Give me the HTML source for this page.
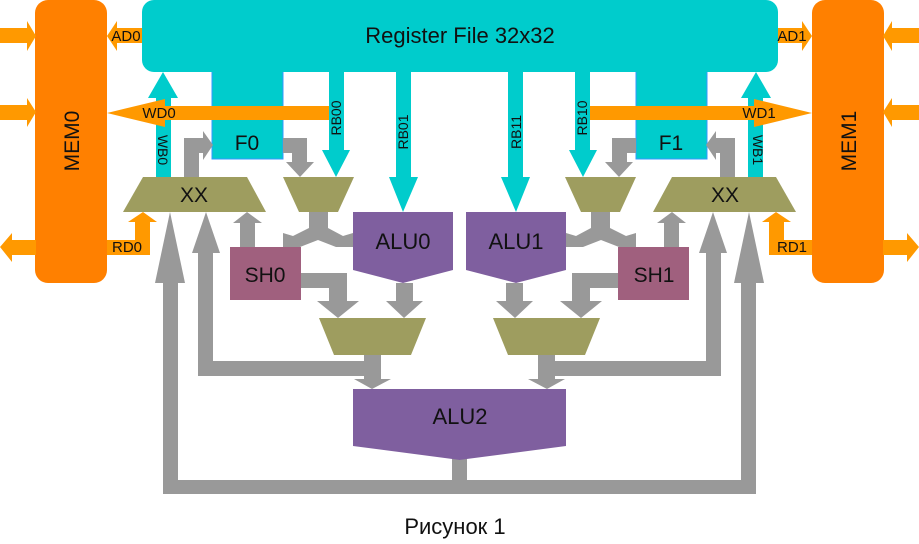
<!DOCTYPE html>
<html><head><meta charset="utf-8"><style>
html,body{margin:0;padding:0;background:#fff;}
svg{display:block;}
text{font-family:"Liberation Sans","DejaVu Sans",sans-serif;fill:#111;}
</style></head><body>
<svg width="919" height="544" viewBox="0 0 919 544" xmlns="http://www.w3.org/2000/svg">
<defs>
<g id="L">
  <rect x="212" y="70" width="71" height="89" fill="#00cccc" stroke="#3399ff" stroke-width="1"/>
  <rect x="35" y="0" width="72" height="283" rx="13" fill="#ff8000"/>
  <polygon fill="#ff9900" points="0,28 27,28 27,21 36,36 27,51 27,43 0,43"/>
  <polygon fill="#ff9900" points="0,105 27,105 27,98 36,112 27,127 27,120 0,120"/>
  <polygon fill="#ff9900" points="36,240 12,240 12,233 0,247 12,262 12,255 36,255"/>
  <polygon fill="#ff9900" points="142,28 117,28 117,21 107,36 117,51 117,43 142,43"/>
  <polygon fill="#00cccc" points="156,177 156,98 148,98 163,72 178,98 171,98 171,177"/>
  <polygon fill="#ff9900" points="330,106 165,106 165,99 107,113 165,127 165,120 330,120"/>
  <polygon fill="#ff9900" points="107,240 135,240 135,222 128,222 143,212 157,222 150,222 150,255 107,255"/>
  <polygon fill="#00cccc" points="329,72 344,72 344,150 350,150 336,177 322,150 329,150"/>
  <polygon fill="#00cccc" points="396,72 411,72 411,177 418,177 403,212 389,177 396,177"/>
  <polygon fill="#9e9d5f" points="143,177 247,177 266,212 123,212"/>
  <polygon fill="#999" points="184,177 184,138 203,138 203,131 213,145 203,160 203,153 199,153 199,177"/>
  <polygon fill="#999" points="283,138 307,138 307,162 314,162 300,177 286,162 292,162 292,153 283,153"/>
  <polygon fill="#9e9d5f" points="283,177 354,177 338,212 299,212"/>
  <polygon fill="#999" points="309,212 328,212 328,228 343,236 353,233 353,247 336,247 318,240 300,247 283,247 283,233 293,236 309,228"/>
  <rect x="230" y="247" width="71" height="53" fill="#a0607e"/>
  <polygon fill="#999" points="240,247 240,223 233,223 247,212 262,223 255,223 255,247"/>
  <polygon fill="#7f5f9f" points="353,212 453,212 453,270 403,283 353,270"/>
  <polygon fill="#999" points="163,494 163,283 155,283 170,212 185,283 178,283 178,480 452,480 452,458 460,458 460,494"/>
  <polygon fill="#999" points="198,376 198,253 192,253 206,212 220,253 213,253 213,361 364,361 364,355 381,355 381,379 391,379 372,389 354,379 364,379 364,376"/>
  <polygon fill="#999" points="301,273 347,273 347,301 359,301 338,318 317,301 329,301 329,288 301,288"/>
  <polygon fill="#999" points="396,283 413,283 413,301 423,301 404,318 386,301 396,301"/>
  <polygon fill="#9e9d5f" points="319,318 426,318 411,355 334,355"/>
  <polygon fill="#7f5f9f" points="353,389 460,389 460,460 353,446"/>
</g>
</defs>
<use href="#L"/>
<use href="#L" transform="translate(919,0) scale(-1,1)"/>
<rect x="142" y="0" width="636" height="72" rx="12" fill="#00cccc"/>

<text x="460" y="43" font-size="22" text-anchor="middle">Register File 32x32</text>
<text x="0" y="0" font-size="21" text-anchor="middle" transform="translate(79,141) rotate(-90)">MEM0</text>
<text x="0" y="0" font-size="21" text-anchor="middle" transform="translate(856,141) rotate(-90)">MEM1</text>
<text x="126" y="41" font-size="15" text-anchor="middle">AD0</text>
<text x="792" y="41" font-size="15" text-anchor="middle">AD1</text>
<text x="159" y="118" font-size="15" text-anchor="middle">WD0</text>
<text x="759" y="118" font-size="15" text-anchor="middle">WD1</text>
<text x="127" y="252" font-size="15" text-anchor="middle">RD0</text>
<text x="792" y="252" font-size="15" text-anchor="middle">RD1</text>
<text x="0" y="0" font-size="14" text-anchor="middle" transform="translate(158,150) rotate(90)">WB0</text>
<text x="0" y="0" font-size="14" text-anchor="middle" transform="translate(753,150) rotate(90)">WB1</text>
<text x="0" y="0" font-size="14" text-anchor="middle" transform="translate(341,118) rotate(-90)">RB00</text>
<text x="0" y="0" font-size="14" text-anchor="middle" transform="translate(408,132) rotate(-90)">RB01</text>
<text x="0" y="0" font-size="14" text-anchor="middle" transform="translate(521,132) rotate(-90)">RB11</text>
<text x="0" y="0" font-size="14" text-anchor="middle" transform="translate(587,118) rotate(-90)">RB10</text>
<text x="247" y="150" font-size="21" text-anchor="middle">F0</text>
<text x="671" y="150" font-size="21" text-anchor="middle">F1</text>
<text x="194" y="202" font-size="21" text-anchor="middle">XX</text>
<text x="725" y="202" font-size="21" text-anchor="middle">XX</text>
<text x="265" y="282" font-size="21" text-anchor="middle">SH0</text>
<text x="654" y="282" font-size="21" text-anchor="middle">SH1</text>
<text x="403" y="249" font-size="22" text-anchor="middle">ALU0</text>
<text x="516" y="249" font-size="22" text-anchor="middle">ALU1</text>
<text x="460" y="424" font-size="22" text-anchor="middle">ALU2</text>
<text x="455" y="534" font-size="22" text-anchor="middle">Рисунок 1</text>
</svg>
</body></html>
